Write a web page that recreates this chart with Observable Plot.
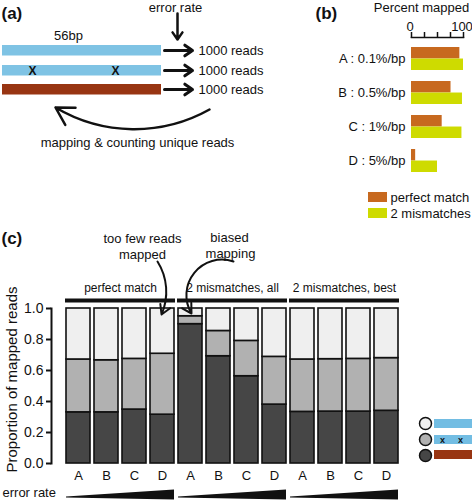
<!DOCTYPE html>
<html><head><meta charset="utf-8">
<script src="https://cdn.jsdelivr.net/npm/d3@7"></script>
<script src="https://cdn.jsdelivr.net/npm/@observablehq/plot@0.6"></script>
<style>
body{margin:0;background:#fff;}
#wrap{position:relative;width:472px;height:500px;overflow:hidden;}
#wrap > *{position:absolute;}
</style></head><body><div id="wrap"></div>
<script>
const FONT = '"Liberation Sans", Arial, Helvetica, sans-serif';
const INK = "#111";

// ---------- panel (b) data ----------
const rateCodes = ["A", "B", "C", "D"];
const rateLabels = ["A : 0.1%/bp", "B : 0.5%/bp", "C : 1%/bp", "D : 5%/bp"];
const matchTypes = ["perfect match", "2 mismatches"];
const pctPerfect = [93, 76, 59, 8];
const pctTwoMismatch = [100, 98, 97, 50];
const matchColors = ["#c7691f", "#cedb00"];
const pctTicks = [0, 25, 50, 75, 100];
const pctLabelTicks = [0, 100];

// ---------- panel (c) data ----------
const groupNames = ["perfect match", "2 mismatches, all", "2 mismatches, best"];
const readTypes = ["mutated read", "2-mismatch read", "original read"];
const readColors = ["#464646", "#b1b1b1", "#efefef"];
const darkTop = [0.330, 0.330, 0.348, 0.315, 0.899, 0.692, 0.563, 0.380, 0.333, 0.335, 0.335, 0.340];
const midTop  = [0.671, 0.666, 0.675, 0.708, 0.950, 0.855, 0.791, 0.688, 0.671, 0.673, 0.675, 0.680];
const propTicks = [0, 0.2, 0.4, 0.6, 0.8, 1.0];

const wrap = document.getElementById("wrap");

// ---------- panel (b) chart ----------
const bRows = rateCodes.flatMap((r, i) => [
  {rate: r, type: matchTypes[0], pct: pctPerfect[i]},
  {rate: r, type: matchTypes[1], pct: pctTwoMismatch[i]}
]);
const bTop = 37, bInset = 9, bHeight = 181, bBottom = 8, bPad = 0.335;
const bBand = (bHeight - bBottom - bTop - bInset) * (1 - bPad) / (rateCodes.length - bPad);
const chartB = Plot.plot({
  width: 172, height: bHeight,
  marginLeft: 111, marginRight: 9, marginTop: bTop, marginBottom: bBottom,
  style: {fontFamily: FONT, fontSize: "13px", background: "transparent", color: INK, overflow: "visible"},
  x: {domain: [0, 100]},
  y: {domain: rateCodes, paddingInner: bPad, paddingOuter: 0, insetTop: bInset},
  color: {domain: matchTypes, range: matchColors},
  marks: [
    Plot.barX(bRows.filter(d => d.type === matchTypes[0]), {y: "rate", x: "pct", fill: "type", insetBottom: bBand / 2}),
    Plot.barX(bRows.filter(d => d.type === matchTypes[1]), {y: "rate", x: "pct", fill: "type", insetTop: bBand / 2}),
    Plot.frame({anchor: "top", stroke: INK, strokeWidth: 1.5}),
    Plot.axisX({anchor: "top", ticks: pctTicks, tickSize: 6, strokeWidth: 1.5, tickFormat: () => "", label: null}),
    Plot.axisX({anchor: "top", ticks: pctLabelTicks, tickSize: 0, tickPadding: 7, dx: -1.5,
      tickFormat: d => String(d), label: null, fontSize: 13}),
    Plot.axisY({tickSize: 0, tickPadding: 6, tickFormat: d => rateLabels[rateCodes.indexOf(d)], label: null, fontSize: 13})
  ]
});
chartB.style.left = "300px"; chartB.style.top = "0px";
wrap.appendChild(chartB);

// ---------- panel (c) chart ----------
const cKeys = groupNames.flatMap(g => rateCodes.map(r => g + "|" + r));
const cRows = cKeys.flatMap((k, i) => [
  {key: k, seg: readTypes[0], lo: 0, hi: darkTop[i]},
  {key: k, seg: readTypes[1], lo: darkTop[i], hi: midTop[i]},
  {key: k, seg: readTypes[2], lo: midTop[i], hi: 1}
]);
const cTopPx = 230;
const chartC = Plot.plot({
  width: 472, height: 270,
  marginLeft: 51, marginRight: 71, marginTop: 78, marginBottom: 37,
  style: {fontFamily: FONT, fontSize: "13px", background: "transparent", color: INK, overflow: "visible"},
  x: {domain: cKeys, paddingInner: 0.15, paddingOuter: 0.075, insetLeft: 12},
  y: {domain: [0, 1]},
  color: {domain: readTypes, range: readColors},
  marks: [
    Plot.barY(cRows, {x: "key", y1: "lo", y2: "hi", fill: "seg", stroke: INK, strokeWidth: 1.6}),
    Plot.frame({anchor: "left", stroke: INK, strokeWidth: 2}),
    Plot.axisY({ticks: propTicks, tickFormat: d3.format(".1f"), tickSize: 5, tickPadding: 3,
      strokeWidth: 2, fontSize: 14, label: null}),
    Plot.axisX({tickSize: 0, tickPadding: 7, tickFormat: k => k.split("|")[1], fontSize: 13, label: null})
  ]
});
chartC.style.left = "0px"; chartC.style.top = cTopPx + "px";
wrap.appendChild(chartC);

// ---------- overlay: schematic (a), annotations, legends ----------
const sx = chartC.scale("x");
const groupSpans = groupNames.map(g => {
  const ks = cKeys.filter(k => k.startsWith(g + "|"));
  const x1 = sx.apply(ks[0]);
  const x2 = sx.apply(ks[ks.length - 1]) + sx.bandwidth;
  return {g, x1, x2, mid: (x1 + x2) / 2};
});
const wedgeRows = groupSpans.flatMap(s => [
  {g: s.g, x: s.x1, lo: 497.5, hi: 496.5},
  {g: s.g, x: s.x2, lo: 499.5, hi: 489.5}
]);

const readBars = [
  {x1: 2, x2: 161, y1: 45, y2: 55.5, fill: "#7fc3e4"},
  {x1: 2, x2: 161, y1: 65, y2: 75.5, fill: "#7fc3e4"},
  {x1: 2, x2: 161, y1: 84, y2: 94.5, fill: "#983512"}
];
const mismatchMarks = [{x: 32, y: 71}, {x: 115, y: 71}];
const readArrows = [50, 70, 89].map(y => ({x1: 164, y1: y, x2: 192, y2: y}));
const boldLabels = [{t: "(a)", x: 1, y: 13}, {t: "(b)", x: 315, y: 13}, {t: "(c)", x: 1, y: 238}];
const midTexts = [
  {t: "56bp", x: 68, y: 35}, {t: "error rate", x: 175, y: 7},
  {t: "mapping & counting unique reads", x: 137, y: 142},
  {t: "Percent mapped", x: 421, y: 7},
  {t: "too few reads", x: 142, y: 238}, {t: "mapped", x: 142, y: 254},
  {t: "biased", x: 229, y: 237}, {t: "mapping", x: 230, y: 253}
];
const startTexts = [
  {t: "1000 reads", x: 198, y: 50}, {t: "1000 reads", x: 198, y: 70}, {t: "1000 reads", x: 198, y: 89},
  {t: "perfect match", x: 390, y: 197}, {t: "2 mismatches", x: 390, y: 213},
  {t: "error rate", x: 2, y: 492.5}
];
const bLegend = matchTypes.map((m, i) => ({x1: 368, x2: 387, y1: [192, 208][i], y2: [202, 218][i], fill: matchColors[i]}));
const cLegendDots = [
  {y: 423, fill: readColors[2]}, {y: 439, fill: readColors[1]}, {y: 455, fill: readColors[0]}
];
const cLegendBars = [
  {y1: 419, y2: 428, fill: "#72bde3"}, {y1: 435, y2: 444, fill: "#72bde3"}, {y1: 450, y2: 459, fill: "#983512"}
];
const cLegendX = [{x: 442, y: 439.5}, {x: 460, y: 439.5}];

const overlay = Plot.plot({
  width: 472, height: 500, margin: 0,
  style: {fontFamily: FONT, fontSize: "13px", background: "transparent", color: INK, overflow: "visible"},
  x: {type: "identity", axis: null},
  y: {type: "identity", axis: null},
  color: {type: "identity"},
  marks: [
    // panel (a)
    Plot.rect(readBars, {x1: "x1", x2: "x2", y1: "y1", y2: "y2", fill: "fill"}),
    Plot.text(mismatchMarks, {x: "x", y: "y", text: () => "X", fontSize: 12, fontWeight: "bold", fill: INK}),
    Plot.arrow(readArrows, {x1: "x1", y1: "y1", x2: "x2", y2: "y2", stroke: INK, strokeWidth: 3, headLength: 9, headAngle: 70}),
    Plot.arrow([{x1: 177, y1: 13, x2: 177, y2: 39}], {x1: "x1", y1: "y1", x2: "x2", y2: "y2", stroke: INK, strokeWidth: 2.5, headLength: 9, headAngle: 70}),
    Plot.arrow([{x1: 209, y1: 109, x2: 55, y2: 107}], {x1: "x1", y1: "y1", x2: "x2", y2: "y2", bend: 30, stroke: INK, strokeWidth: 2.5, headLength: 12, headAngle: 60}),
    // panel (b) legend
    Plot.rect(bLegend, {x1: "x1", x2: "x2", y1: "y1", y2: "y2", fill: "fill"}),
    // panel (c) annotations
    Plot.arrow([{x1: 157, y1: 261, x2: 161, y2: 314}], {x1: "x1", y1: "y1", x2: "x2", y2: "y2", bend: 28, stroke: INK, strokeWidth: 2, headLength: 8, headAngle: 60}),
    Plot.arrow([{x1: 233, y1: 261, x2: 191, y2: 313}], {x1: "x1", y1: "y1", x2: "x2", y2: "y2", bend: -70, stroke: INK, strokeWidth: 2, headLength: 8, headAngle: 60}),
    Plot.ruleY(groupSpans, {y: () => cTopPx + 70, x1: d => d.x1 - 1, x2: d => d.x2 + 1, stroke: INK, strokeWidth: 4}),
    Plot.text(groupSpans, {x: "mid", y: () => cTopPx + 58, text: "g", fontSize: 12, fill: INK}),
    Plot.areaY(wedgeRows, {x: "x", y1: "lo", y2: "hi", z: "g", fill: INK}),
    Plot.text(["Proportion of mapped reads"], {x: 12, y: 379, rotate: -90, fontSize: 15, fill: INK}),
    Plot.rect(cLegendBars, {x1: 434, x2: 474, y1: "y1", y2: "y2", fill: "fill"}),
    Plot.text(cLegendX, {x: "x", y: "y", text: () => "x", fontSize: 9, fontWeight: "bold", fill: INK}),
    Plot.dot(cLegendDots, {x: 425, y: "y", r: 6, fill: "fill", stroke: INK, strokeWidth: 1.5}),
    // text
    Plot.text(boldLabels, {x: "x", y: "y", text: "t", fontSize: 17, fontWeight: "bold", textAnchor: "start", fill: INK}),
    Plot.text(midTexts, {x: "x", y: "y", text: "t", fontSize: 13, fill: INK}),
    Plot.text(startTexts, {x: "x", y: "y", text: "t", fontSize: 13, textAnchor: "start", fill: INK})
  ]
});
overlay.style.left = "0px"; overlay.style.top = "0px"; overlay.style.pointerEvents = "none";
wrap.appendChild(overlay);
</script></body></html>
